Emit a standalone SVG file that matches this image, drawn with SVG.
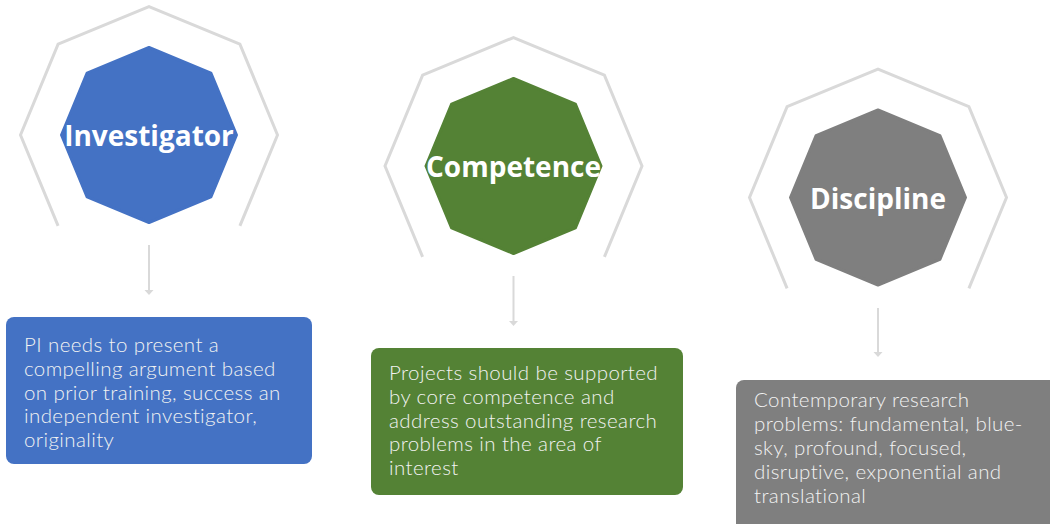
<svg xmlns="http://www.w3.org/2000/svg" xmlns:xlink="http://www.w3.org/1999/xlink" width="1050" height="524" viewBox="0 0 1050 524">
<style>
.ring{fill:none;stroke:#D9D9D9;stroke-width:3;stroke-linejoin:miter}
.oct{stroke-width:3;stroke-linejoin:round}
.blue{fill:#4472C4;stroke:#4472C4}
.green{fill:#548235;stroke:#548235}
.grey{fill:#7F7F7F;stroke:#7F7F7F}
.title{font-family:"Open Sans","Noto Sans","DejaVu Sans",sans-serif;font-weight:700;font-size:28px;fill:#FFFFFF;text-anchor:middle}
.body{font-family:Lato,"Liberation Sans",sans-serif;font-weight:300;font-size:20.5px;letter-spacing:0.4px;fill:#F2F2F2}
.conn{stroke:#D9D9D9;stroke-width:2;fill:none}
.head{fill:#D9D9D9}
</style>
<defs>
<polyline id="ringShape" points="-90.9,90.9 -128.5,0 -90.9,-90.9 0,-128.5 90.9,-90.9 128.5,0 90.9,90.9"/>
<polygon id="octShape" points="0,-87.5 61.9,-61.9 87.5,0 61.9,61.9 0,87.5 -61.9,61.9 -87.5,0 -61.9,-61.9"/>
</defs>

<g id="node-investigator">
<use xlink:href="#ringShape" class="ring" x="149" y="135"/>
<use xlink:href="#octShape" class="oct blue" x="149" y="135"/>
<text class="title" x="149" y="146">Investigator</text>
</g>

<g id="node-competence">
<use xlink:href="#ringShape" class="ring" x="513.5" y="166"/>
<use xlink:href="#octShape" class="oct green" x="513.5" y="166"/>
<text class="title" x="513.5" y="177">Competence</text>
</g>

<g id="node-discipline">
<use xlink:href="#ringShape" class="ring" x="878" y="197.5"/>
<use xlink:href="#octShape" class="oct grey" x="878" y="197.5"/>
<text class="title" x="878" y="208.5">Discipline</text>
</g>

<g id="connectors">
<line class="conn" x1="149" y1="245" x2="149" y2="291"/>
<path class="head" d="M144.5,290 L153.5,290 L149,295 Z"/>
<line class="conn" x1="513.5" y1="276" x2="513.5" y2="322"/>
<path class="head" d="M509,321 L518,321 L513.5,326 Z"/>
<line class="conn" x1="878" y1="308" x2="878" y2="353"/>
<path class="head" d="M873.5,352 L882.5,352 L878,357 Z"/>
</g>

<g id="box-investigator">
<rect x="6" y="317" width="306" height="147" rx="8" fill="#4472C4"/>
<text class="body">
<tspan x="24" y="351.5">PI needs to present a</tspan>
<tspan x="24" y="375.5">compelling argument based</tspan>
<tspan x="24" y="399.5">on prior training, success an</tspan>
<tspan x="24" y="423">independent investigator,</tspan>
<tspan x="24" y="447">originality</tspan>
</text>
</g>

<g id="box-competence">
<rect x="371" y="348" width="312" height="147" rx="8" fill="#548235"/>
<text class="body">
<tspan x="389" y="379.5">Projects should be supported</tspan>
<tspan x="389" y="403.5">by core competence and</tspan>
<tspan x="389" y="427.5">address outstanding research</tspan>
<tspan x="389" y="451">problems in the area of</tspan>
<tspan x="389" y="475">interest</tspan>
</text>
</g>

<g id="box-discipline">
<rect x="736" y="380" width="330" height="160" rx="8" fill="#7F7F7F"/>
<text class="body">
<tspan x="754" y="407">Contemporary research</tspan>
<tspan x="754" y="431">problems: fundamental, blue-</tspan>
<tspan x="754" y="455">sky, profound, focused,</tspan>
<tspan x="754" y="479">disruptive, exponential and</tspan>
<tspan x="754" y="503">translational</tspan>
</text>
</g>
</svg>
